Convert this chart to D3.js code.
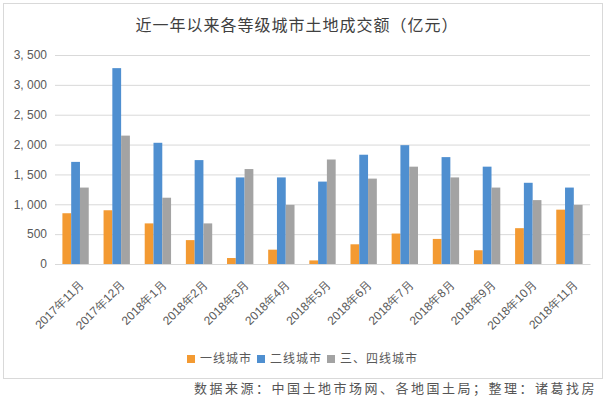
<!DOCTYPE html>
<html>
<head>
<meta charset="utf-8">
<script src="https://cdn.jsdelivr.net/npm/d3@7"></script>
<style>
  body { margin: 0; background: #fff; }
  svg { display: block; font-family: "Noto Sans CJK SC", "DejaVu Sans", sans-serif; }
</style>
</head>
<body>
<svg id="chart" width="608" height="397"></svg>
<script>
const months = ['2017年11月', '2017年12月', '2018年1月', '2018年2月', '2018年3月', '2018年4月',
  '2018年5月', '2018年6月', '2018年7月', '2018年8月', '2018年9月', '2018年10月', '2018年11月'];
const seriesNames = ['一线城市', '二线城市', '三、四线城市'];
const tier1 = [850, 900, 680, 400, 100, 240, 60, 330, 510, 420, 230, 600, 910];
const tier2 = [1710, 3280, 2030, 1740, 1450, 1450, 1380, 1830, 1990, 1790, 1630, 1360, 1280];
const tier34 = [1280, 2150, 1110, 680, 1590, 990, 1750, 1430, 1630, 1450, 1280, 1070, 990];
const yTicks = [0, 500, 1000, 1500, 2000, 2500, 3000, 3500];

const colors = ['#f39a32', '#4f8fd0', '#a3a3a3'];
const series = [tier1, tier2, tier34];

const width = 608;
const height = 397;
const margin = {top: 55, right: 18, bottom: 133, left: 55};

const svg = d3.select('#chart');

// outer frame
svg.append('rect')
  .attr('x', 3.5).attr('y', 3.5)
  .attr('width', 599).attr('height', 375)
  .attr('fill', 'none')
  .attr('stroke', '#d9d9d9');

const x = d3.scaleBand()
  .domain(d3.range(months.length))
  .range([margin.left, width - margin.right])
  .paddingInner(0.36)
  .paddingOuter(0.18);

const inner = d3.scaleBand()
  .domain(d3.range(series.length))
  .range([0, x.bandwidth()]);

const y = d3.scaleLinear()
  .domain([0, 3500])
  .range([height - margin.bottom, margin.top]);

// grid + y labels
const yAxis = d3.axisLeft(y)
  .tickValues(yTicks)
  .tickSize(-(width - margin.left - margin.right))
  .tickPadding(8)
  .tickFormat(d => d3.format(',')(d).replace(',', ', '));

svg.append('g')
  .attr('transform', `translate(${margin.left},0)`)
  .call(yAxis)
  .call(g => g.select('.domain').remove())
  .call(g => g.selectAll('.tick line').attr('stroke', '#d9d9d9'))
  .call(g => g.selectAll('.tick text')
    .attr('fill', '#595959')
    .style('font-family', '"Liberation Sans", Arial, sans-serif')
    .style('font-size', '12px'));

// bars
const groups = svg.append('g').selectAll('g')
  .data(series)
  .join('g')
  .attr('fill', (d, i) => colors[i]);

groups.each(function(values, si) {
  d3.select(this).selectAll('rect')
    .data(values)
    .join('rect')
    .attr('x', (d, i) => x(i) + inner(si))
    .attr('width', inner.bandwidth())
    .attr('y', d => y(d))
    .attr('height', d => y(0) - y(d));
});

// x axis labels
const xAxis = d3.axisBottom(x)
  .tickFormat(i => months[i])
  .tickSize(0)
  .tickPadding(6);

svg.append('g')
  .attr('transform', `translate(0,${y(0)})`)
  .call(xAxis)
  .call(g => g.select('.domain').attr('stroke', '#d9d9d9'))
  .call(g => g.selectAll('.tick text')
    .attr('fill', '#595959')
    .style('font-size', '12px')
    .attr('text-anchor', 'end')
    .attr('dy', '0.35em')
    .attr('transform', 'translate(2,14) rotate(-45)'));

// title
svg.append('text')
  .attr('x', 297)
  .attr('y', 31)
  .attr('text-anchor', 'middle')
  .attr('fill', '#404040')
  .style('font-size', '16px')
  .style('letter-spacing', '1px')
  .text('近一年以来各等级城市土地成交额（亿元）');

// legend
const legendX = [187, 257, 327];
const legend = svg.append('g')
  .selectAll('g')
  .data(seriesNames)
  .join('g')
  .attr('transform', (d, i) => `translate(${legendX[i]},359)`);

legend.append('rect')
  .attr('width', 8).attr('height', 8)
  .attr('y', -4)
  .attr('fill', (d, i) => colors[i]);

legend.append('text')
  .attr('x', 13)
  .attr('dy', '0.35em')
  .attr('fill', '#595959')
  .style('font-size', '12px')
  .style('letter-spacing', '1px')
  .text(d => d);

// source note
svg.append('text')
  .attr('x', 597)
  .attr('y', 393)
  .attr('text-anchor', 'end')
  .attr('fill', '#555')
  .style('font-size', '13px')
  .style('letter-spacing', '2.5px')
  .text('数据来源：中国土地市场网、各地国土局；整理：诸葛找房');
</script>
</body>
</html>
